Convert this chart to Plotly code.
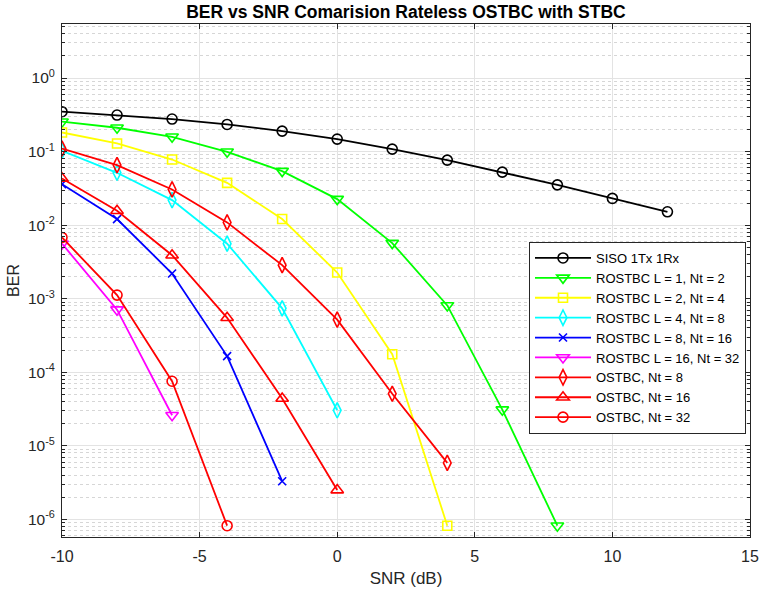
import plotly.graph_objects as go

snr_siso = [-10, -8, -6, -4, -2, 0, 2, 4, 6, 8, 10, 12]
ber_siso = [0.349, 0.314, 0.277, 0.234, 0.19, 0.148, 0.108, 0.0766, 0.0526, 0.0353, 0.0231, 0.0152]

snr_l1 = [-10, -8, -6, -4, -2, 0, 2, 4, 6, 8]
ber_l1 = [0.255, 0.211, 0.159, 0.0994, 0.0543, 0.0226, 0.0057, 8.1e-4, 3.1e-5, 8.2e-7]

snr_l2 = [-10, -8, -6, -4, -2, 0, 2, 4]
ber_l2 = [0.182, 0.129, 0.078, 0.0376, 0.0121, 2.27e-3, 1.76e-4, 8.2e-7]

snr_l4 = [-10, -8, -6, -4, -2, 0]
ber_l4 = [0.1026, 0.0515, 0.0219, 5.6e-3, 7.4e-4, 3.04e-5]

snr_l8 = [-10, -8, -6, -4, -2]
ber_l8 = [0.036, 0.0121, 2.2e-3, 1.66e-4, 3.3e-6]

snr_l16 = [-10, -8, -6]
ber_l16 = [5.6e-3, 7.1e-4, 2.6e-5]

snr_o8 = [-10, -8, -6, -4, -2, 0, 2, 4]
ber_o8 = [0.110, 0.0655, 0.0306, 0.0109, 2.86e-3, 5.2e-4, 5.1e-5, 5.85e-6]

snr_o16 = [-10, -8, -6, -4, -2, 0]
ber_o16 = [0.0432, 0.0157, 3.9e-3, 5.5e-4, 4.4e-5, 2.5e-6]

snr_o32 = [-10, -8, -6, -4]
ber_o32 = [6.8e-3, 1.12e-3, 7.55e-5, 8.2e-7]

xtick_vals = [-10, -5, 0, 5, 10, 15]
xtick_text = [str(v) for v in xtick_vals]

names = ["SISO 1Tx 1Rx", "ROSTBC L = 1, Nt = 2", "ROSTBC L = 2, Nt = 4",
         "ROSTBC L = 4, Nt = 8", "ROSTBC L = 8, Nt = 16", "ROSTBC L = 16, Nt = 32",
         "OSTBC, Nt = 8", "OSTBC, Nt = 16", "OSTBC, Nt = 32"]
xs = [snr_siso, snr_l1, snr_l2, snr_l4, snr_l8, snr_l16, snr_o8, snr_o16, snr_o32]
ys = [ber_siso, ber_l1, ber_l2, ber_l4, ber_l8, ber_l16, ber_o8, ber_o16, ber_o32]
colors = ["#000000", "#00FF00", "#FFFF00", "#00FFFF", "#0000FF", "#FF00FF",
          "#FF0000", "#FF0000", "#FF0000"]
symbols = ["circle-open", "triangle-down-open", "square-open", "diamond-tall-open",
           "x-thin-open", "triangle-down-open", "diamond-tall-open",
           "triangle-up-open", "circle-open"]
sizes = [10, 11, 9, 11, 8, 11, 11, 11, 10]

fig = go.Figure()
for x, y, n, c, s, sz in zip(xs, ys, names, colors, symbols, sizes):
    fig.add_trace(go.Scatter(
        x=x, y=y, name=n, mode="lines+markers",
        line=dict(color=c, width=1.8),
        marker=dict(symbol=s, size=sz, color=c, line=dict(color=c, width=1.6)),
    ))

ytick_vals = [10.0 ** e for e in range(-6, 1)]
ytick_text = ["10<sup>%d</sup>" % e for e in range(-6, 1)]
minor_vals = [m * 10.0 ** e for e in range(-7, 1) for m in range(2, 10)]

axcol = "#262626"
fig.update_layout(
    width=762, height=591,
    margin=dict(l=62, r=12, t=24, b=54, autoexpand=False),
    paper_bgcolor="white", plot_bgcolor="white",
    font=dict(family="Liberation Sans, Arial, sans-serif", size=13, color=axcol),
    title=dict(text="<b>BER vs SNR Comarision Rateless OSTBC with STBC</b>",
               x=406 / 762, xref="container", xanchor="center",
               y=1 - 12 / 591, yref="container", yanchor="middle",
               font=dict(size=17.5, color="#000000")),
    showlegend=True,
    legend=dict(x=746 / 762, xref="container", xanchor="right",
                y=1 - 242 / 591, yref="container", yanchor="top",
                bgcolor="white", bordercolor=axcol, borderwidth=1,
                font=dict(size=13, color="#000000"), itemwidth=56,
                tracegroupgap=0),
)
fig.update_xaxes(
    range=[-10, 15], tickvals=xtick_vals, ticktext=xtick_text,
    title=dict(text="SNR (dB)", font=dict(size=17), standoff=7),
    automargin=False, ticklabelstandoff=5,
    showline=True, linecolor=axcol, linewidth=1, mirror="allticks",
    ticks="inside", ticklen=5, tickcolor=axcol,
    showgrid=True, gridcolor="#E3E3E3", gridwidth=1, zeroline=False,
    tickfont=dict(size=16),
)
fig.update_yaxes(
    type="log", range=[-6.24, 0.735],
    tickvals=ytick_vals, ticktext=ytick_text,
    title=dict(text="BER", font=dict(size=16), standoff=4),
    automargin=False, ticklabelstandoff=3,
    showline=True, linecolor=axcol, linewidth=1, mirror="allticks",
    ticks="inside", ticklen=5, tickcolor=axcol,
    showgrid=True, gridcolor="#E3E3E3", gridwidth=1, zeroline=False,
    tickfont=dict(size=15.5),
    minor=dict(tickvals=minor_vals, showgrid=True, gridcolor="#D6D6D6",
               griddash="dot", gridwidth=1, ticks="inside", ticklen=3,
               tickcolor=axcol),
)

fig.write_html("out.html", config={"displayModeBar": False},
               post_script="document.body.style.margin='0px';")
